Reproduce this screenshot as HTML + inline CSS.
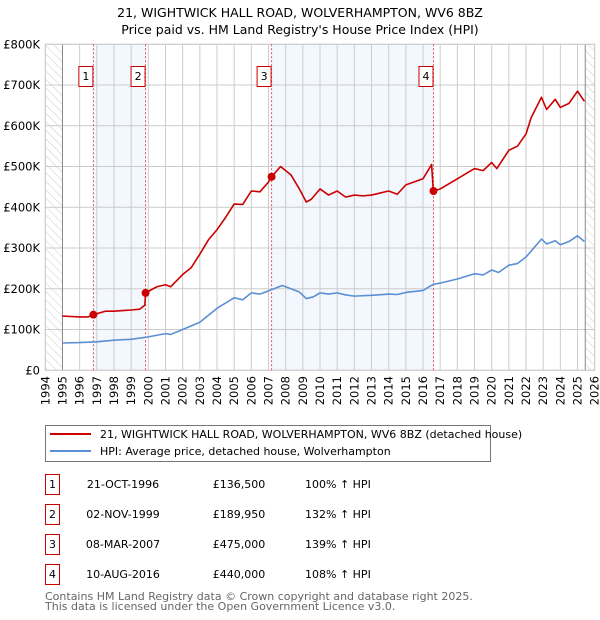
<!DOCTYPE html>
<html><head><meta charset="utf-8"><style>
body{margin:0;background:#fff;font-family:"DejaVu Sans","Liberation Sans",sans-serif;}
svg{display:block}
</style></head><body>
<svg id="chart" width="600" height="620" xmlns="http://www.w3.org/2000/svg" font-family="DejaVu Sans, Liberation Sans, sans-serif">
<defs><pattern id="hatch" width="6" height="6" patternUnits="userSpaceOnUse" patternTransform="rotate(-45)"><line x1="0" y1="0" x2="0" y2="6" stroke="#ccc" stroke-width="1"/></pattern></defs>
<text x="300" y="17" text-anchor="middle" font-size="12.5">21, WIGHTWICK HALL ROAD, WOLVERHAMPTON, WV6 8BZ</text>
<text x="300" y="34" text-anchor="middle" font-size="12.5">Price paid vs. HM Land Registry's House Price Index (HPI)</text>
<g id="plot"></g>
<g>
<rect x="45.5" y="425.5" width="445" height="36" fill="#fff" stroke="#777"/>
<line x1="50" y1="434" x2="91" y2="434" stroke="#cc0000" stroke-width="2"/>
<text x="100" y="438" font-size="11">21, WIGHTWICK HALL ROAD, WOLVERHAMPTON, WV6 8BZ (detached house)</text>
<line x1="50" y1="451" x2="91" y2="451" stroke="#5b8fd4" stroke-width="2"/>
<text x="100" y="455" font-size="11">HPI: Average price, detached house, Wolverhampton</text>
</g>
<g id="table" font-size="11"></g>
<text x="45" y="600" font-size="11" fill="#666">Contains HM Land Registry data © Crown copyright and database right 2025.</text>
<text x="45" y="610" font-size="11" fill="#666">This data is licensed under the Open Government Licence v3.0.</text>
</svg>
<script>
const yTicks=[0,100,200,300,400,500,600,700,800];
const yTickLabels=["£0","£100K","£200K","£300K","£400K","£500K","£600K","£700K","£800K"];
const years=[1994,1995,1996,1997,1998,1999,2000,2001,2002,2003,2004,2005,2006,2007,2008,2009,2010,2011,2012,2013,2014,2015,2016,2017,2018,2019,2020,2021,2022,2023,2024,2025,2026];
const hpiT=[1995,1996,1997,1998,1999,2000,2001,2001.3,2002,2003,2004,2005,2005.5,2006,2006.5,2007,2007.8,2008.3,2008.8,2009.2,2009.6,2010,2010.5,2011,2011.5,2012,2013,2014,2014.5,2015,2016,2016.6,2017,2018,2019,2019.5,2020,2020.4,2021,2021.5,2022,2022.9,2023.2,2023.7,2024,2024.5,2025,2025.4];
const hpiV=[67,68,70,74,76,82,90,88,100,118,152,178,173,190,187,195,208,200,192,176,180,190,187,190,185,182,184,187,186,191,196,211,214,224,237,234,246,240,258,262,278,322,310,318,308,316,330,316];
const priceT=[1995,1995.5,1996,1996.5,1996.8,1997.5,1998,1999,1999.5,1999.8,1999.84,2000.5,2001,2001.3,2002,2002.5,2003,2003.5,2004,2004.5,2005,2005.5,2006,2006.5,2007,2007.18,2007.7,2008.3,2008.8,2009.2,2009.5,2010,2010.5,2011,2011.5,2012,2012.5,2013,2013.5,2014,2014.5,2015,2016,2016.5,2016.6,2017,2018,2019,2019.5,2020,2020.3,2021,2021.5,2022,2022.3,2022.9,2023.2,2023.7,2024,2024.5,2025,2025.4];
const priceV=[133,132,131,131,136.5,145,145,148,150,160,190,205,210,205,235,252,285,320,345,375,408,407,440,438,462,475,500,480,445,413,420,445,430,440,425,430,428,430,435,440,432,455,470,505,440,445,470,495,490,510,495,540,550,580,620,670,640,665,645,655,685,660];
const saleT=[1996.8,1999.84,2007.18,2016.61];
const saleV=[136.5,189.95,475,440];
const saleDates=["21-OCT-1996","02-NOV-1999","08-MAR-2007","10-AUG-2016"];
const salePrices=["£136,500","£189,950","£475,000","£440,000"];
const saleHpi=["100% ↑ HPI","132% ↑ HPI","139% ↑ HPI","108% ↑ HPI"];
const NS="http://www.w3.org/2000/svg";
const X0=45.3,X1=594.7,Y0=370.3,Y1=44.3;
const x=t=>X0+(t-1994)/32*(X1-X0);
const y=v=>Y0-v/800*(Y0-Y1);
const plot=document.getElementById('plot');
function mk(tag,attrs,parent){const e=document.createElementNS(NS,tag);for(const k in attrs)e.setAttribute(k,attrs[k]);(parent||plot).appendChild(e);return e;}
mk('rect',{x:X0,y:Y1,width:X1-X0,height:Y0-Y1,fill:'#fff'});
// shaded
[[saleT[0],saleT[1]],[saleT[2],saleT[3]]].forEach(([a,b])=>{const r=mk('rect',{x:x(a),y:Y1,width:x(b)-x(a),height:Y0-Y1,fill:'#eef3fd',opacity:0.7});

});
// hatch
const h1=mk('rect',{x:x(1994),y:Y1,width:x(1995)-x(1994),height:Y0-Y1,fill:'url(#hatch)'});


const h2=mk('rect',{x:x(2025.45),y:Y1,width:X1-x(2025.45),height:Y0-Y1,fill:'url(#hatch)'});


// grid
years.forEach(t=>{mk('line',{x1:x(t),x2:x(t),y1:Y1,y2:Y0,stroke:'#ccc','stroke-width':1});
const tx=mk('text',{x:0,y:0,transform:`translate(${x(t)+4},${376}) rotate(-90)`,'text-anchor':'end','font-size':11.5});tx.textContent=t;

});
yTicks.forEach((v,i)=>{mk('line',{x1:X0,x2:X1,y1:y(v),y2:y(v),stroke:'#ccc','stroke-width':1});
const tx=mk('text',{x:40,y:y(v)+4,'text-anchor':'end','font-size':11.5});tx.textContent=yTickLabels[i];

});
mk('line',{x1:x(1995),x2:x(1995),y1:Y1,y2:Y0,stroke:'#888'});
mk('line',{x1:x(2025.45),x2:x(2025.45),y1:Y1,y2:Y0,stroke:'#888'});
mk('rect',{x:X0,y:Y1,width:X1-X0,height:Y0-Y1,fill:'none',stroke:'#ccc'});
// sale lines
saleT.forEach((t,i)=>{const l=mk('line',{x1:x(t),x2:x(t),y1:Y1,y2:Y0,stroke:'#e05050','stroke-dasharray':'2,2','stroke-width':1});


const bx=mk('rect',{x:x(t)-14.5,y:66.5,width:14,height:20,fill:'#fff',stroke:'#cc0000'});


const tt=mk('text',{x:x(t)-7.5,y:80,'text-anchor':'middle','font-size':11});tt.textContent=i+1;});
function line(T,V,col,name){const p=mk('polyline',{points:T.map((t,i)=>x(t)+','+y(V[i])).join(' '),fill:'none',stroke:col,'stroke-width':1.6,'stroke-linejoin':'round'});

}
line(hpiT,hpiV,'#5b8fd4','hpi-line');
line(priceT,priceV,'#cc0000','price-line');
saleT.forEach((t,i)=>{const c=mk('circle',{cx:x(t),cy:y(saleV[i]),r:4,fill:'#cc0000'});

});
// table
const tb=document.getElementById('table');
saleDates.forEach((d,i)=>{const cy=485+i*30;
const r=mk('rect',{x:45.5,y:cy-10.5,width:14,height:20,fill:'none',stroke:'#cc0000'},tb);


const n=mk('text',{x:52.5,y:cy+3,'text-anchor':'middle'},tb);n.textContent=i+1;
const a=mk('text',{x:123,y:cy+3,'text-anchor':'middle'},tb);a.textContent=d;


const b=mk('text',{x:239,y:cy+3,'text-anchor':'middle'},tb);b.textContent=salePrices[i];


const c=mk('text',{x:305,y:cy+3},tb);c.textContent=saleHpi[i];

});
</script>
</body></html>
